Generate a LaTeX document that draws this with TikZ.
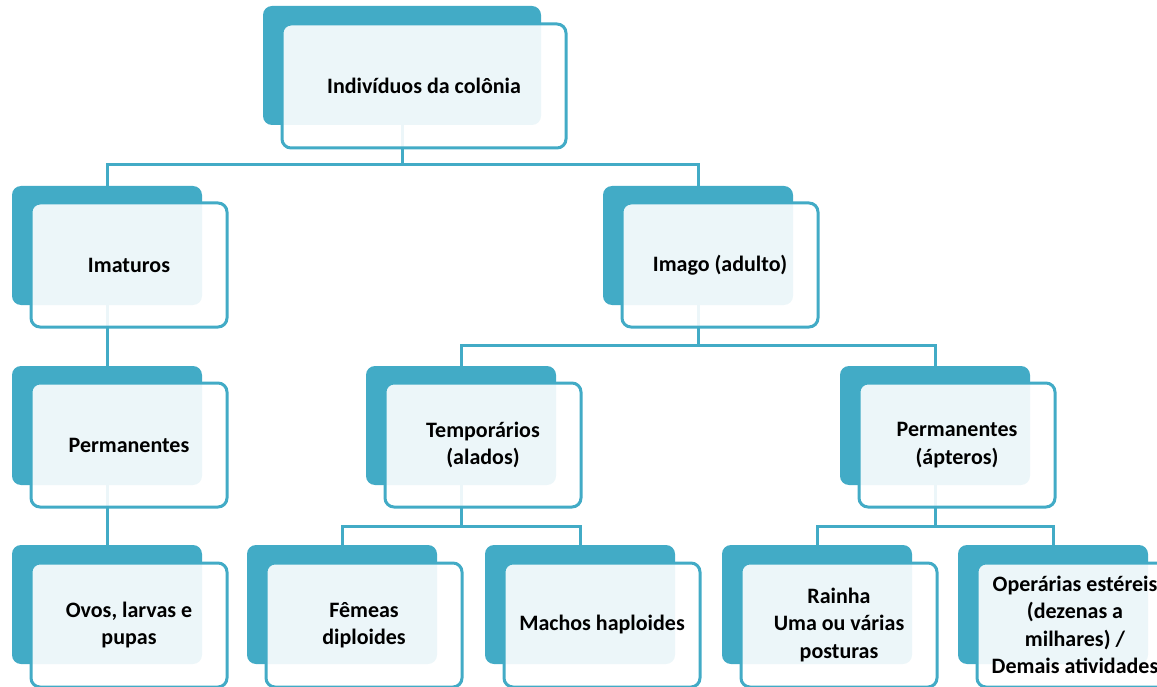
\documentclass[tikz,border=0pt]{standalone}
\usepackage{fontspec}
\setmainfont{Carlito}
\definecolor{tealA}{RGB}{66,171,198}
\pgfdeclarelayer{bg}
\pgfsetlayers{bg,main}
\begin{document}
\begin{tikzpicture}[x=1pt,y=-1pt,
  back/.style={fill=tealA,rounded corners=9pt,anchor=north west,minimum width=190pt,minimum height=119pt,inner sep=0pt,outer sep=0pt},
  front/.style={draw=tealA,line width=3pt,fill=white,fill opacity=0.9,text opacity=1,rounded corners=9pt,anchor=north west,minimum width=196pt,minimum height=124pt,inner sep=0pt,outer sep=0pt,font=\bfseries\fontsize{22}{27.5}\selectfont,align=center},
  conn/.style={draw=tealA,line width=3pt}]
\useasboundingbox (0,0) rectangle (1157,687);
% back boxes
\node[back,minimum width=278pt] (b0) at (263,6) {};
\node[back] (b1) at (12,186) {};
\node[back] (b2) at (603,186) {};
\node[back] (b3) at (12,366) {};
\node[back] (b4) at (366,366) {};
\node[back] (b5) at (840,366) {};
\node[back] (b6) at (12,545) {};
\node[back] (b7) at (247,545) {};
\node[back] (b8) at (485,545) {};
\node[back] (b9) at (722,545) {};
\node[back] (b10) at (958,545) {};
% front boxes
\node[front,minimum width=284pt] (f0) at (282,24) {Indivíduos da colônia};
\node[front] (f1) at (31,203) {Imaturos};
\node[front] (f2) at (622,203) {Imago (adulto)};
\node[front] (f3) at (31,383) {Permanentes};
\node[front] (f4) at (385,383) {Temporários\\(alados)};
\node[front] (f5) at (859,383) {Permanentes\\(ápteros)};
\node[front] (f6) at (31,563) {Ovos, larvas e\\pupas};
\node[front] (f7) at (266,563) {Fêmeas\\diploides};
\node[front] (f8) at (504,563) {Machos haploides};
\node[front] (f9) at (741,563) {Rainha\\Uma ou várias\\posturas};
\node[front] (f10) at (977,563) {Operárias estéreis\\(dezenas a\\milhares) /\\Demais atividades};
% connectors
\coordinate (y0) at (0,165);
\coordinate (y1) at (0,345);
\coordinate (y2) at (0,526);
\begin{pgfonlayer}{bg}
\draw[conn] (b0.center) -- (b0.center |- y0);
\draw[conn] (b1.north) |- (y0 -| b2.north) -- (b2.north);
\draw[conn] (b1.center) -- (b3.north);
\draw[conn] (b3.center) -- (b6.north);
\draw[conn] (b2.center) -- (b2.center |- y1);
\draw[conn] (b4.north) |- (y1 -| b5.north) -- (b5.north);
\draw[conn] (b4.center) -- (b4.center |- y2);
\draw[conn] (b7.north) |- (y2 -| b8.north) -- (b8.north);
\draw[conn] (b5.center) -- (b5.center |- y2);
\draw[conn] (b9.north) |- (y2 -| b10.north) -- (b10.north);
\end{pgfonlayer}
\end{tikzpicture}
\end{document}
